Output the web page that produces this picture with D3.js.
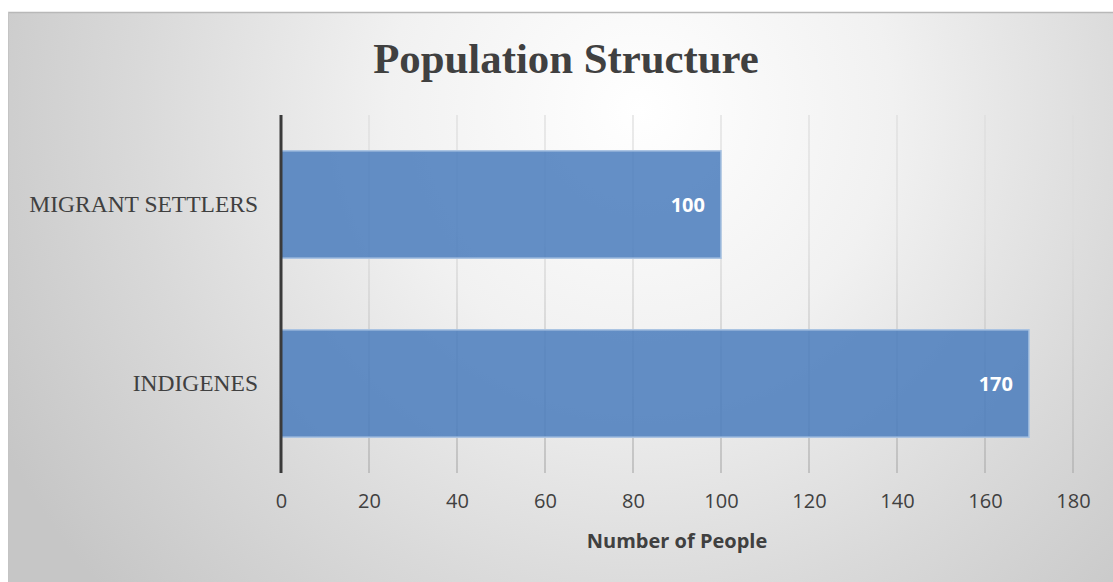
<!DOCTYPE html>
<html>
<head>
<meta charset="utf-8">
<script src="https://cdn.jsdelivr.net/npm/d3@7"></script>
<style>
  html, body { margin: 0; padding: 0; background: #ffffff; }
  svg { display: block; }
</style>
</head>
<body>
<svg id="chart" width="1113" height="582"></svg>
<script>
// Population counts by group
const categories = ["MIGRANT SETTLERS", "INDIGENES"];
const values = [100, 170];
const xTicks = [0, 20, 40, 60, 80, 100, 120, 140, 160, 180];
const chartTitle = "Population Structure";
const xAxisTitle = "Number of People";

const W = 1113, H = 582;
const margin = { top: 115, right: 40, bottom: 109, left: 281 };
const plotW = 1073 - margin.left;
const plotH = 473 - margin.top;

const svg = d3.select("#chart");
const defs = svg.append("defs");

// soft radial shading of the chart panel
const bg = defs.append("radialGradient")
  .attr("id", "panelShade")
  .attr("gradientUnits", "userSpaceOnUse")
  .attr("cx", 640).attr("cy", 110).attr("r", 720)
  .attr("fx", 640).attr("fy", 110);
bg.append("stop").attr("offset", "0%").attr("stop-color", "#ffffff");
bg.append("stop").attr("offset", "35%").attr("stop-color", "#f1f1f1");
bg.append("stop").attr("offset", "70%").attr("stop-color", "#d9d9d9");
bg.append("stop").attr("offset", "100%").attr("stop-color", "#c6c6c6");

// gridlines darken toward the bottom of the plot
const gg = defs.append("linearGradient")
  .attr("id", "gridShade")
  .attr("gradientUnits", "userSpaceOnUse")
  .attr("x1", 0).attr("y1", margin.top).attr("x2", 0).attr("y2", margin.top + plotH);
gg.append("stop").attr("offset", "0%").attr("stop-color", "#dcdcdc");
gg.append("stop").attr("offset", "100%").attr("stop-color", "#959595");

// panel
svg.append("rect")
  .attr("x", 8).attr("y", 12).attr("width", W - 8).attr("height", H - 12)
  .attr("fill", "url(#panelShade)");
svg.append("line")
  .attr("x1", 8).attr("x2", W).attr("y1", 12.5).attr("y2", 12.5)
  .attr("stroke", "#b8b8b8").attr("stroke-width", 1.5);
svg.append("line")
  .attr("x1", 8.5).attr("x2", 8.5).attr("y1", 12).attr("y2", H)
  .attr("stroke", "#c4c4c4").attr("stroke-width", 1);

const x = d3.scaleLinear().domain([0, 180]).range([0, plotW]);
const y = d3.scaleBand().domain(categories).range([0, plotH])
  .paddingInner(0.4).paddingOuter(0.2);

const g = svg.append("g").attr("transform", `translate(${margin.left},${margin.top})`);

// vertical gridlines
g.append("g")
  .selectAll("line")
  .data(xTicks.filter(d => d > 0))
  .join("line")
  .attr("x1", d => x(d)).attr("x2", d => x(d))
  .attr("y1", 0).attr("y2", plotH)
  .attr("stroke", "url(#gridShade)")
  .attr("stroke-width", 1.2);

// bars
g.append("g")
  .selectAll("rect")
  .data(categories.map((c, i) => ({ c, v: values[i] })))
  .join("rect")
  .attr("x", x(0))
  .attr("y", d => y(d.c))
  .attr("width", d => x(d.v) - x(0))
  .attr("height", y.bandwidth())
  .attr("fill", "#4a7dbd")
  .attr("fill-opacity", 0.86)
  .attr("stroke", "#a9c3e2")
  .attr("stroke-width", 1.5);

// value labels
g.append("g")
  .selectAll("text")
  .data(categories.map((c, i) => ({ c, v: values[i] })))
  .join("text")
  .attr("x", d => x(d.v) - 16)
  .attr("y", d => y(d.c) + y.bandwidth() / 2)
  .attr("dy", "0.36em")
  .attr("text-anchor", "end")
  .attr("font-family", "'Open Sans', sans-serif")
  .attr("font-weight", "bold")
  .attr("font-size", 20)
  .attr("fill", "#ffffff")
  .text(d => d.v);

// value axis: tick labels only
const xAxis = g.append("g")
  .attr("transform", `translate(0,${plotH})`)
  .call(d3.axisBottom(x).tickValues(xTicks).tickSize(0).tickPadding(21));
xAxis.select(".domain").remove();
xAxis.selectAll("text")
  .attr("font-family", "'Open Sans', sans-serif")
  .attr("font-size", 20)
  .attr("fill", "#404040");

// category axis
const yAxis = g.append("g")
  .call(d3.axisLeft(y).tickSize(0).tickPadding(23));
yAxis.select(".domain").remove();
yAxis.selectAll("text")
  .attr("font-family", "'Liberation Serif', 'Times New Roman', serif")
  .attr("font-size", 23.5)
  .attr("fill", "#404040");

// category axis line
g.append("line")
  .attr("x1", 0).attr("x2", 0)
  .attr("y1", 0).attr("y2", plotH)
  .attr("stroke", "#3a3a3a")
  .attr("stroke-width", 3);

// titles
svg.append("text")
  .attr("x", 566).attr("y", 73)
  .attr("text-anchor", "middle")
  .attr("font-family", "'Liberation Serif', 'Times New Roman', serif")
  .attr("font-weight", "bold")
  .attr("font-size", 42.8)
  .attr("fill", "#404040")
  .text(chartTitle);

svg.append("text")
  .attr("x", margin.left + plotW / 2).attr("y", 548)
  .attr("text-anchor", "middle")
  .attr("font-family", "'Open Sans', sans-serif")
  .attr("font-weight", "bold")
  .attr("font-size", 20)
  .attr("fill", "#404040")
  .text(xAxisTitle);
</script>
</body>
</html>
